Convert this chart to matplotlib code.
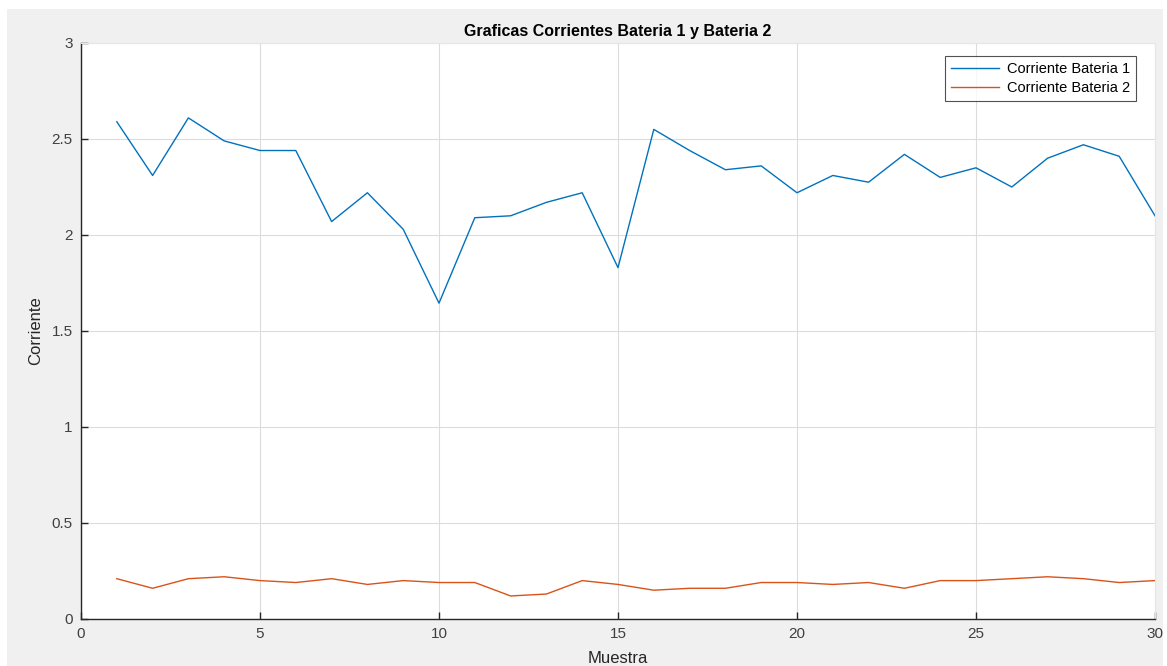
import numpy as np
import matplotlib
matplotlib.use("Agg")
import matplotlib.pyplot as plt
from matplotlib.patches import Rectangle

# Muestras y corrientes medidas en cada bateria
muestra = np.arange(1, 31)
corriente_b1 = [2.59, 2.31, 2.61, 2.49, 2.44, 2.44, 2.07, 2.22, 2.03, 1.645,
                2.09, 2.10, 2.17, 2.22, 1.83, 2.55, 2.44, 2.34, 2.36, 2.22,
                2.31, 2.275, 2.42, 2.30, 2.35, 2.25, 2.40, 2.47, 2.41, 2.10]
corriente_b2 = [0.21, 0.16, 0.21, 0.22, 0.20, 0.19, 0.21, 0.18, 0.20, 0.19,
                0.19, 0.12, 0.13, 0.20, 0.18, 0.15, 0.16, 0.16, 0.19, 0.19,
                0.18, 0.19, 0.16, 0.20, 0.20, 0.21, 0.22, 0.21, 0.19, 0.20]

xticks = [0, 5, 10, 15, 20, 25, 30]
yticks = [0, 0.5, 1, 1.5, 2, 2.5, 3]
yticklabels = ["0", "0.5", "1", "1.5", "2", "2.5", "3"]

plt.rcParams["font.family"] = ["Liberation Sans", "DejaVu Sans"]

W, H = 1167, 666
fig = plt.figure(figsize=(W / 100, H / 100), dpi=100)
fig.patch.set_facecolor("white")
# fondo gris de la ventana
fig.patches.append(Rectangle((7 / W, 0), (1163 - 7) / W, (H - 9) / H,
                             transform=fig.transFigure, facecolor="#f0f0f0",
                             edgecolor="none", zorder=-5))

ax = fig.add_axes([81 / W, 1 - 619 / H, (1155 - 81) / W, (619 - 43) / H])
ax.set_facecolor("white")

ax.plot(muestra, corriente_b1, color="#0072BD", lw=1.0, label="Corriente Bateria 1")
ax.plot(muestra, corriente_b2, color="#D95319", lw=1.0, label="Corriente Bateria 2")

ax.set_xlim(0, 30)
ax.set_ylim(0, 3)
ax.set_xticks(xticks)
ax.set_yticks(yticks)
ax.set_yticklabels(yticklabels)
ax.grid(True, color="#dcdcdc", lw=0.8)
ax.set_axisbelow(True)

ax.tick_params(direction="in", length=5, width=1, colors="#262626",
               labelsize=11, labelcolor="#404040", pad=6)
for lado in ("left", "bottom"):
    ax.spines[lado].set_color("#262626")
    ax.spines[lado].set_linewidth(1)
for lado in ("top", "right"):
    ax.spines[lado].set_color("#e6e6e6")
    ax.spines[lado].set_linewidth(0.8)

ax.set_title("Graficas Corrientes Bateria 1 y Bateria 2", fontsize=11.5,
             fontweight="bold", color="black", pad=5)
ax.set_xlabel("Muestra", fontsize=12, color="#262626", labelpad=7)
ax.set_ylabel("Corriente", fontsize=12, color="#262626", labelpad=6)

leg = ax.legend(loc="upper right", bbox_to_anchor=(0.982, 0.977), fontsize=10.5,
                frameon=True, fancybox=False, borderpad=0.4, handlelength=3.3,
                handletextpad=0.5, labelspacing=0.35, borderaxespad=0)
leg.get_frame().set_edgecolor("#262626")
leg.get_frame().set_linewidth(0.8)

fig.savefig("out.png", dpi=100)
